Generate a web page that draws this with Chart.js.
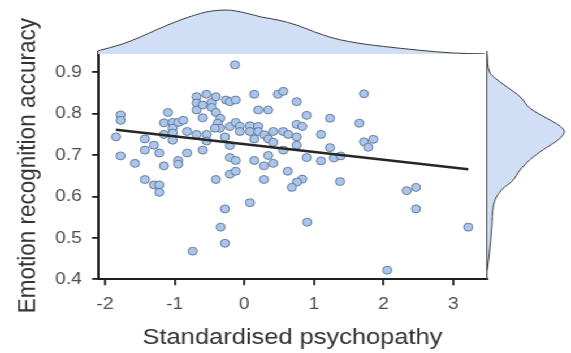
<!DOCTYPE html>
<html>
<head>
<meta charset="utf-8">
<script src="https://cdn.jsdelivr.net/npm/chart.js@4.4.1/dist/chart.umd.min.js"></script>
<style>
  html, body { margin: 0; padding: 0; background: #fff; overflow: hidden; }
  /* plot is laid out at 505px wide and stretched to the 571px frame */
  #wrap { position: relative; width: 505px; height: 353px; transform: scaleX(1.1307); transform-origin: 0 0; }
  #wrap canvas { position: absolute; left: 0; top: 0; }
</style>
</head>
<body>
<div id="wrap">
  <canvas id="mainChart" width="505" height="353"></canvas>
  <canvas id="topDensity" width="505" height="353"></canvas>
  <canvas id="rightDensity" width="505" height="353"></canvas>
</div>
<script>
// participants: standardised psychopathy score vs emotion recognition accuracy
const psychopathy = [
  -1.775, -1.775, -1.842, -1.775, -1.569, -1.426, -1.426, -1.297, -1.220, -1.426,
  -1.297, -1.220, -1.220, -1.153, -1.153, -1.153, -1.096, -1.028, -0.948, -0.876,
  -1.028, -1.028, -1.028, -0.819, -0.819, -0.948, -0.948, -0.684, -0.684, -0.684,
  -0.741, -0.684, -0.543, -0.597, -0.468, -0.468, -0.407, -0.597, -0.407, -0.263,
  -0.206, -0.124, -0.345, -0.382, -0.349, -0.206, -0.124, -0.062, -0.062, -0.540,
  -0.540, -0.597, -0.421, -0.277, -0.206, -0.206, -0.124, -0.407, -0.206, -0.124,
  -0.134, 0.082, -0.277, -0.339, -0.277, 0.143, 0.201, 0.344, 0.483, 0.560,
  0.082, 0.082, 0.201, 0.201, 0.143, 0.287, 0.344, 0.416, 0.416, 0.560,
  0.631, 0.752, 0.832, 0.752, 0.752, 0.560, 0.143, 0.344, 0.416, 0.283,
  0.623, 0.283, 0.832, 0.756, 0.684, 0.752, 0.896, 1.230, 1.101, 1.230,
  0.896, 1.101, 1.287, 1.384, 1.374, 0.904, 1.718, 1.651, 1.718, 1.780,
  1.852, 2.331, 2.465, 2.465, 3.215, 2.053
];
const accuracy = [
  0.797, 0.784, 0.744, 0.698, 0.680, 0.739, 0.712, 0.724, 0.705, 0.641,
  0.628, 0.628, 0.610, 0.674, 0.778, 0.750, 0.803, 0.779, 0.779, 0.784,
  0.765, 0.753, 0.736, 0.757, 0.705, 0.687, 0.678, 0.841, 0.826, 0.809,
  0.468, 0.750, 0.847, 0.821, 0.827, 0.815, 0.803, 0.790, 0.841, 0.833,
  0.829, 0.833, 0.789, 0.777, 0.765, 0.769, 0.779, 0.769, 0.757, 0.750,
  0.734, 0.712, 0.765, 0.744, 0.723, 0.694, 0.687, 0.641, 0.654, 0.661,
  0.918, 0.585, 0.570, 0.526, 0.487, 0.847, 0.809, 0.809, 0.847, 0.854,
  0.771, 0.757, 0.769, 0.757, 0.739, 0.749, 0.739, 0.757, 0.731, 0.757,
  0.750, 0.774, 0.769, 0.744, 0.724, 0.712, 0.687, 0.699, 0.680, 0.674,
  0.661, 0.641, 0.642, 0.635, 0.622, 0.829, 0.796, 0.789, 0.750, 0.718,
  0.694, 0.686, 0.693, 0.698, 0.636, 0.538, 0.848, 0.777, 0.732, 0.719,
  0.738, 0.614, 0.622, 0.570, 0.526, 0.422
];

// fitted regression line (ends at the observed x range)
const fitX = [-1.842, 3.215];
const fitY = [0.761, 0.666];

// marginal density of psychopathy (top)
const densXPoints = [-2.1, -1.75, -1.5, -1.25, -1.0, -0.75, -0.5, -0.25, 0, 0.25,
  0.5, 0.75, 1.0, 1.25, 1.5, 1.75, 2.0, 2.5, 3.0, 3.45];
const densXValues = [0.029, 0.091, 0.153, 0.224, 0.290, 0.347, 0.389, 0.401, 0.377, 0.337,
  0.308, 0.264, 0.204, 0.150, 0.114, 0.088, 0.069, 0.035, 0.009, 0.001];

// marginal density of accuracy (right)
const densYPoints = [0.944, 0.898, 0.886, 0.865, 0.841, 0.813, 0.789, 0.773, 0.757, 0.737,
  0.713, 0.689, 0.664, 0.636, 0.620, 0.600, 0.575, 0.527, 0.463, 0.422];
const densYValues = [0, 0.22, 0.58, 1.42, 2.38, 3.10, 4.30, 5.13, 5.57, 5.13,
  4.05, 3.10, 2.38, 1.78, 1.17, 0.70, 0.45, 0.34, 0.17, 0.02];

const xTicks = [-2, -1, 0, 1, 2, 3];
const yTicks = [0.4, 0.5, 0.6, 0.7, 0.8, 0.9];

const X_MIN = -2.1, X_MAX = 3.484;
const Y_MIN = 0.4, Y_MAX = 0.949;

const axisCol = "#1f1f1f";
const tickCol = "#4d4d4d";
const pointFill = "#a9c6ee";
const pointEdge = "#56667e";
const densFill = "#d0dff6";
const densLine = "#3d3d3d";
const family = "'Liberation Sans', Arial, sans-serif";

const W = 505, H = 353;
const area = { left: 86.67, right: 430.7, top: 52, bottom: 279.3 };

Chart.defaults.font.family = family;
Chart.defaults.animation = false;

new Chart(document.getElementById("mainChart"), {
  type: "scatter",
  data: {
    datasets: [
      {
        data: fitX.map((x, i) => ({ x, y: fitY[i] })),
        showLine: true,
        borderColor: "#262626",
        borderWidth: 2.5,
        pointRadius: 0,
      },
      {
        data: psychopathy.map((x, i) => ({ x, y: accuracy[i] })),
        pointRadius: 4,
        pointBackgroundColor: pointFill,
        pointBorderColor: pointEdge,
        pointBorderWidth: 0.8,
      },
    ],
  },
  options: {
    responsive: false,
    layout: { padding: { left: 0, top: area.top, right: W - area.right, bottom: 0 } },
    plugins: { legend: { display: false }, tooltip: { enabled: false } },
    scales: {
      x: {
        type: "linear",
        min: X_MIN,
        max: X_MAX,
        afterBuildTicks: (axis) => { axis.ticks = xTicks.map((v) => ({ value: v })); },
        afterFit: (axis) => { axis.height = H - area.bottom; },
        border: { display: true, color: axisCol, width: 2 },
        grid: { drawOnChartArea: false, drawTicks: true, tickLength: 6, color: axisCol, lineWidth: 1.8 },
        ticks: { color: tickCol, font: { size: 17 }, padding: 9, maxRotation: 0 },
        title: {
          display: true,
          text: "Standardised psychopathy",
          color: "#333",
          font: { size: 22.5 },
          padding: { top: 0, bottom: 1.5 },
        },
      },
      y: {
        type: "linear",
        min: Y_MIN,
        max: Y_MAX,
        afterBuildTicks: (axis) => { axis.ticks = yTicks.map((v) => ({ value: v })); },
        afterFit: (axis) => { axis.width = area.left; },
        border: { display: true, color: axisCol, width: 2 },
        grid: { drawOnChartArea: false, drawTicks: true, tickLength: 5.3, color: axisCol, lineWidth: 1.8 },
        ticks: { color: tickCol, font: { size: 17 }, padding: 9, callback: (v) => v.toFixed(1) },
        title: {
          display: true,
          text: "Emotion recognition accuracy",
          color: "#333",
          font: { size: 22.5 },
          padding: { top: 11, bottom: 0 },
        },
      },
    },
  },
});

// top margin: density of psychopathy
new Chart(document.getElementById("topDensity"), {
  type: "line",
  data: {
    datasets: [{
      data: densXPoints.map((x, i) => ({ x, y: densXValues[i] })),
      fill: "origin",
      backgroundColor: densFill,
      borderColor: densLine,
      borderWidth: 1,
      pointRadius: 0,
      cubicInterpolationMode: "monotone",
    }],
  },
  options: {
    responsive: false,
    layout: { padding: { left: area.left, right: W - area.right, top: 8, bottom: H - 54 } },
    plugins: { legend: { display: false }, tooltip: { enabled: false } },
    scales: {
      x: { type: "linear", min: X_MIN, max: X_MAX, display: false },
      y: { type: "linear", min: 0, max: 0.42, display: false },
    },
  },
});

// right margin: density of accuracy
new Chart(document.getElementById("rightDensity"), {
  type: "line",
  data: {
    datasets: [{
      data: densYPoints.map((y, i) => ({ x: densYValues[i], y })),
      indexAxis: "y",
      fill: "origin",
      backgroundColor: densFill,
      borderColor: densLine,
      borderWidth: 1,
      pointRadius: 0,
      cubicInterpolationMode: "monotone",
    }],
  },
  options: {
    responsive: false,
    indexAxis: "y",
    layout: { padding: { left: area.right, right: 0, top: area.top, bottom: H - area.bottom } },
    plugins: { legend: { display: false }, tooltip: { enabled: false } },
    scales: {
      x: { type: "linear", min: 0, max: 6.05, display: false },
      y: {
        type: "linear",
        min: Y_MIN,
        max: Y_MAX,
        afterFit: (axis) => { axis.width = 0; },
        border: { display: true, color: "#444", width: 1.2 },
        grid: { display: false },
        ticks: { display: false },
      },
    },
  },
});
</script>
</body>
</html>
